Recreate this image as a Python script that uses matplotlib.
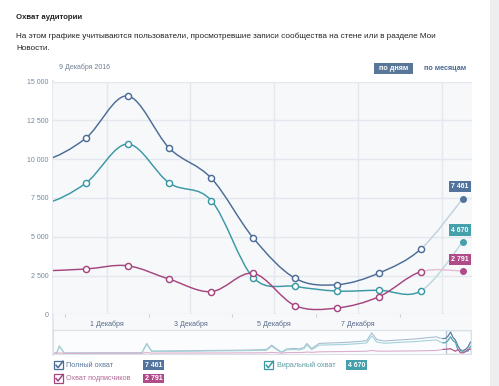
import matplotlib
matplotlib.use('Agg')
import matplotlib.pyplot as plt
from matplotlib.path import Path
from matplotlib.patches import PathPatch, Rectangle
from matplotlib.lines import Line2D

plt.rcParams['font.family'] = ['Liberation Sans', 'DejaVu Sans']

# main chart: one point per day at noon (1 Dec 00:00 == 1.0)
days = [-1.5, -0.5, 0.5, 1.5, 2.5, 3.5, 4.5, 5.5, 6.5, 7.5, 8.5, 9.5]
total_reach = [9800, 9900, 11350, 14080, 10700, 8770, 4920, 2320, 1910, 2660, 4210, 7461]
viral_reach = [7000, 7100, 8450, 10980, 8450, 7330, 2360, 1800, 1500, 1550, 1500, 4670]
subs_reach = [2700, 2800, 2920, 3130, 2260, 1460, 2640, 555, 406, 1135, 2750, 2791]

x_ticks = [1, 3, 5, 7]
x_labels = ['1 Декабря', '3 Декабря', '5 Декабря', '7 Декабря']
y_ticks = [0, 2500, 5000, 7500, 10000, 12500, 15000]

# navigator (whole period, before the selected window)
nav_days = [-158, -156, -155, -153, -139, -122, -120, -118, -111, -103,
            -95, -87, -79, -74, -72, -70, -68, -66, -64, -61,
            -59, -57, -56, -54, -51, -47, -41, -35, -32, -30,
            -28, -25, -19, -13, -7, -4, -3]
nav_total = [300, 300, 5000, 300, 400, 400, 6600, 1600, 1700, 1800,
             2000, 2100, 2300, 2500, 2700, 5500, 3000, 900, 3000, 3300,
             3000, 4000, 6600, 3300, 6600, 6900, 7200, 7900, 8500, 13500,
             9200, 8200, 8900, 9500, 10500, 10900, 10200]
nav_viral = [200, 200, 4600, 200, 250, 250, 6000, 1350, 1400, 1500,
             1650, 1750, 1900, 2050, 2200, 4800, 2450, 700, 2400, 2650,
             2350, 3250, 5600, 2550, 5500, 5700, 5900, 6500, 7000, 11500,
             7600, 6700, 7300, 7800, 8600, 8900, 7900]
nav_subs = [100, 100, 400, 100, 150, 150, 600, 250, 300, 300,
            350, 350, 400, 450, 500, 700, 550, 200, 600, 650,
            650, 750, 1000, 750, 1100, 1200, 1300, 1400, 1500, 2000,
            1600, 1500, 1600, 1700, 1900, 2000, 2300]

BLUE, TEAL, MAG = '#4b6c97', '#3a98a4', '#a5457f'
series = [
    ('Полный охват', total_reach, nav_total, BLUE, '#c3d1df', '#52739c', '#a9bdd2'),
    ('Виральный охват', viral_reach, nav_viral, TEAL, '#bcd8e0', '#44a0ab', '#a3d2d8'),
    ('Охват подписчиков', subs_reach, nav_subs, MAG, '#e6bfd6', '#b04b8a', '#dcaecb'),
]

W, H = 499, 386
XMIN, XMAX = -0.28, 9.72


def px_axes(fig, x, y, w, h):
    return fig.add_axes([x / W, 1 - (y + h) / H, w / W, h / H])


def bezier_segments(xs, ys):
    # catmull-rom spline turned into cubic bezier pieces
    px = [xs[0]] + list(xs) + [xs[-1]]
    py = [ys[0]] + list(ys) + [ys[-1]]
    segs = []
    for i in range(1, len(px) - 2):
        c1 = (px[i] + (px[i + 1] - px[i - 1]) / 6, py[i] + (py[i + 1] - py[i - 1]) / 6)
        c2 = (px[i + 1] - (px[i + 2] - px[i]) / 6, py[i + 1] - (py[i + 2] - py[i]) / 6)
        segs.append([(px[i], py[i]), c1, c2, (px[i + 1], py[i + 1])])
    return segs


def seg_path(segs):
    verts = [segs[0][0]]
    codes = [Path.MOVETO]
    for s in segs:
        verts += s[1:]
        codes += [Path.CURVE4] * 3
    return Path(verts, codes)


def fmt(v):
    return f'{v:,}'.replace(',', ' ')


fig = plt.figure(figsize=(W / 100, H / 100), dpi=100)
fig.patch.set_facecolor('white')

# overlay in pixel coordinates for page decorations
over = fig.add_axes([0, 0, 1, 1], zorder=-1)
over.set_xlim(0, W)
over.set_ylim(H, 0)
over.axis('off')
over.add_patch(Rectangle((490, 0), 9, H, color='#edeef0', lw=0))
over.add_patch(Rectangle((53, 314), 419, 15.5, color='#f7f8fa', lw=0))

# main chart
ax = px_axes(fig, 53, 81.7, 419, 232.6)
ax.set_facecolor('#f7f8fa')
for s in ax.spines.values():
    s.set_visible(False)
ax.set_xlim(XMIN, XMAX)
ax.set_ylim(0, 15000)
ax.set_yticks(y_ticks)
ax.set_yticklabels([fmt(v) for v in y_ticks])
ax.set_xticks(x_ticks)
ax.set_xticklabels(x_labels)
ax.set_xticks([0, 2, 4, 6, 8], minor=True)
ax.tick_params(axis='y', length=0, pad=3.5, labelsize=5, labelcolor='#7288a4')
ax.tick_params(axis='x', which='major', length=0, pad=4.5, labelsize=5.1, labelcolor='#56698a')
ax.tick_params(axis='x', which='minor', length=2.2, width=0.8, color='#c9d2dd', direction='out')
for v in y_ticks:
    ax.axhline(v, color='#e4e8ee', lw=1, zorder=0)
for d in [1, 3, 5, 7, 9]:
    ax.axvline(d, color='#e4e8ee', lw=1, zorder=0)

for name, vals, nav_vals, col, light, dot, navc in series:
    segs = bezier_segments(days, vals)
    ax.add_patch(PathPatch(seg_path(segs[:-1]), fc='none', ec=col, lw=1.05, zorder=3))
    ax.add_patch(PathPatch(seg_path(segs[-1:]), fc='none', ec=light, lw=1.05, zorder=2))
    ax.plot(days[2:-1], vals[2:-1], ls='none', marker='o', ms=4.4, mfc='white',
            mec=col, mew=1.05, zorder=4)
    ax.plot(days[-1:], vals[-1:], ls='none', marker='o', ms=4.0, mfc=dot, mec=dot, zorder=4)
    ax.annotate(fmt(vals[-1]), (days[-1], vals[-1]), xytext=(-2, 8.5),
                textcoords='offset points', ha='center', va='center',
                fontsize=5, fontweight='bold', color='white', zorder=5,
                bbox=dict(boxstyle='square,pad=0.3', fc=dot, ec='none'))

# navigator
nav = px_axes(fig, 53, 329.5, 418, 24.5)
nav.set_facecolor('#fbfcfd')
for s in nav.spines.values():
    s.set_color('#dbe1e8')
    s.set_linewidth(0.8)
nav.set_xticks([])
nav.set_yticks([])
nav.set_xlim(-157.5, XMAX)
nav.set_ylim(-330, 15770)
for name, vals, nav_vals, col, light, dot, navc in series:
    nav.plot(nav_days + days, nav_vals + vals, color=navc, lw=0.8)
    nav.plot(days, vals, color=col, lw=0.8, alpha=0.8)
nav.add_patch(Rectangle((XMIN, -330), XMAX - XMIN, 16100, fc='none', ec='#b9c5d3', lw=1.0))

# page texts
over.text(16, 17.5, 'Охват аудитории', fontsize=5.6, fontweight='bold', color='#222222', va='center')
over.text(16, 36, 'На этом графике учитываются пользователи, просмотревшие записи сообщества на стене или в разделе Мои',
          fontsize=5.9, color='#222222', va='center')
over.text(16, 48.3, 'Новости.', fontsize=5.9, color='#222222', va='center')
over.text(59, 67.7, '9 Декабря 2016', fontsize=5, color='#6f7f90', va='center')
over.add_patch(Rectangle((374, 63.3), 39, 11, color='#587799', lw=0))
over.text(393.5, 68.8, 'по дням', fontsize=5.2, fontweight='bold', color='white', ha='center', va='center')
over.text(445.5, 68.8, 'по месяцам', fontsize=5.2, fontweight='bold', color='#4a6a92', ha='center', va='center')
over.add_line(Line2D([53, 53], [81, 355], color='#dfe5ec', lw=1.2))

# legend
legend_pos = [(54, 360.7, 143.3), (264.3, 360.7, 346), (54, 374, 143.3)]
text_cols = ['#5a7799', '#5e9ea6', '#b26b97']
for (name, vals, nav_vals, col, light, dot, navc), (lx, ly, bx), tc in zip(series, legend_pos, text_cols):
    over.add_patch(Rectangle((lx, ly), 8.6, 8.6, fc='white', ec=col, lw=0.9))
    over.add_line(Line2D([lx + 2, lx + 4, lx + 9], [ly + 4.5, ly + 7, ly + 0.5], color=col, lw=1.1))
    over.text(lx + 12.5, ly + 4.5, name, fontsize=5.2, color=tc, va='center')
    over.add_patch(Rectangle((bx, ly - 0.4), 20.8, 9.8, color=dot, lw=0))
    over.text(bx + 10.4, ly + 4.5, fmt(vals[-1]), fontsize=5, fontweight='bold', color='white',
              ha='center', va='center')

fig.savefig('out.png', dpi=100)
